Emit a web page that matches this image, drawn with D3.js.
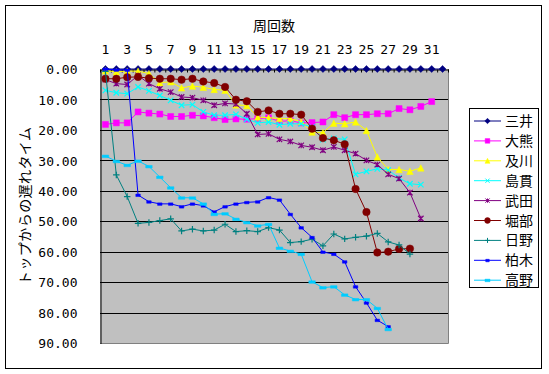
<!DOCTYPE html>
<html>
<head>
<meta charset="utf-8">
<script src="https://cdnjs.cloudflare.com/ajax/libs/d3/7.8.5/d3.min.js"></script>
<style>
  body { margin: 0; background: #fff; }
  svg { display: block; }
</style>
</head>
<body>
<svg id="chart" width="549" height="374"></svg>
<script>
var laps = [1, 2, 3, 4, 5, 6, 7, 8, 9, 10, 11, 12, 13, 14, 15, 16,
            17, 18, 19, 20, 21, 22, 23, 24, 25, 26, 27, 28, 29, 30, 31, 32];
var lapLabels = [1, 3, 5, 7, 9, 11, 13, 15, 17, 19, 21, 23, 25, 27, 29, 31];
var yTicks = [0, 10, 20, 30, 40, 50, 60, 70, 80, 90];
var names = ["三井", "大熊", "及川", "島貫", "武田", "堀部", "日野", "柏木", "高野"];

var mitsui = [0, 0, 0, 0, 0, 0, 0, 0, 0, 0, 0, 0, 0, 0, 0, 0,
              0, 0, 0, 0, 0, 0, 0, 0, 0, 0, 0, 0, 0, 0, 0, 0];
var okuma = [18.2, 17.7, 17.7, 14.1, 14.5, 14.8, 15.6, 15.6, 15.2, 15.4, 16.0, 16.6, 16.4, 16.5, 16.3, 16.0,
             17.2, 17.0, 17.7, 17.6, 17.4, 15.0, 16.0, 15.0, 15.0, 14.7, 14.7, 13.0, 13.4, 12.3, 10.7];
var oikawa = [0.6, 0.9, 0.7, 0.7, 1.5, 4.5, 4.2, 6.2, 5.6, 6.0, 6.7, 7.0, 11.8, 12.0, 15.8, 16.0,
              16.3, 16.3, 17.3, 20.7, 20.9, 17.8, 18.0, 17.4, 20.2, 28.9, 33.0, 33.0, 33.6, 32.5];
var shimanuki = [7.0, 7.8, 8.1, 5.9, 7.2, 8.7, 10.3, 11.9, 11.7, 14.1, 15.2, 15.2, 14.9, 16.5, 17.7, 17.4,
                 18.3, 18.0, 18.0, 19.1, 23.2, 22.8, 23.1, 34.6, 33.6, 32.8, 33.2, 35.8, 37.7, 38.0];
var takeda = [3.5, 4.8, 5.1, 2.1, 4.8, 6.5, 7.6, 9.2, 9.4, 10.3, 11.9, 11.3, 11.5, 14.7, 21.5, 21.3,
              23.1, 23.8, 25.1, 25.7, 26.7, 25.6, 26.7, 27.8, 30.0, 31.4, 34.6, 36.0, 40.6, 49.1];
var horibe = [3.2, 3.2, 2.7, 2.6, 3.0, 3.2, 3.2, 3.5, 3.2, 4.1, 4.6, 5.9, 10.1, 10.6, 14.1, 13.6,
              14.7, 14.7, 15.0, 19.6, 22.7, 23.4, 24.7, 39.4, 47.0, 60.3, 60.0, 59.1, 59.0];
var hino = [0.8, 34.8, 41.9, 50.7, 50.4, 49.8, 49.2, 53.2, 52.6, 53.2, 52.9, 51.0, 53.4, 53.1, 53.4, 52.1,
            52.9, 57.0, 56.7, 55.9, 58.1, 54.2, 55.8, 55.3, 54.9, 54.0, 56.8, 57.8, 60.8];
var kashiwagi = [0.0, 0.3, 0.3, 41.4, 43.6, 44.3, 44.3, 45.2, 44.3, 44.9, 46.9, 45.2, 44.3, 43.8, 43.6, 42.2,
                 43.0, 47.7, 52.1, 55.3, 60.1, 60.8, 63.3, 71.5, 76.8, 82.5, 84.6];
var takano = [28.6, 30.3, 31.6, 30.2, 32.0, 35.5, 39.0, 42.3, 42.3, 44.3, 47.7, 47.5, 49.3, 50.4, 51.5, 51.0,
              58.8, 59.8, 60.8, 69.9, 71.8, 71.5, 74.2, 75.7, 75.7, 78.6, 85.5];

var seriesValues = [mitsui, okuma, oikawa, shimanuki, takeda, horibe, hino, kashiwagi, takano];
var colors = ["#000080", "#ff00ff", "#ffff00", "#00ffff", "#800080", "#800000", "#008080", "#0000ff", "#00ccff"];

// marker shapes, size = (2r)^2
function half(size) { return Math.sqrt(size) / 2; }
var diamond = { draw: function (c, s) { var a = half(s); c.moveTo(0, -a); c.lineTo(a, 0); c.lineTo(0, a); c.lineTo(-a, 0); c.closePath(); } };
var square = { draw: function (c, s) { var a = half(s); c.rect(-a, -a, 2 * a, 2 * a); } };
var triangle = { draw: function (c, s) { var a = half(s); c.moveTo(0, -a); c.lineTo(a, a); c.lineTo(-a, a); c.closePath(); } };
var cross = { draw: function (c, s) { var a = half(s); c.moveTo(-a, -a); c.lineTo(a, a); c.moveTo(a, -a); c.lineTo(-a, a); } };
var star = { draw: function (c, s) { var a = half(s); c.moveTo(-a, -a); c.lineTo(a, a); c.moveTo(a, -a); c.lineTo(-a, a); c.moveTo(0, -a); c.lineTo(0, a); } };
var circle = { draw: function (c, s) { var a = half(s); c.moveTo(a, 0); c.arc(0, 0, a, 0, 2 * Math.PI); } };
var plus = { draw: function (c, s) { var a = half(s); c.moveTo(-a, 0); c.lineTo(a, 0); c.moveTo(0, -a); c.lineTo(0, a); } };
var dash = { draw: function (c, s) { var a = half(s); c.rect(-a, -1, 2 * a, 2.5); } };

var markers = [
    { type: diamond, size: 49, fill: true },
    { type: square, size: 36, fill: true },
    { type: triangle, size: 42, fill: true },
    { type: cross, size: 30, fill: false },
    { type: star, size: 30, fill: false },
    { type: circle, size: 56, fill: true },
    { type: plus, size: 42, fill: false },
    { type: dash, size: 20, fill: true },
    { type: dash, size: 42, fill: true }
];

var svg = d3.select("svg#chart"),
    pLeft = 100, pRight = 448, pTop = 69, pBottom = 343;

svg.append("rect").attr("width", 549).attr("height", 374).attr("fill", "#fff");
svg.append("rect")
    .attr("x", 5.5).attr("y", 5.5).attr("width", 536).attr("height", 363)
    .attr("fill", "none").attr("stroke", "#000");

var x = d3.scaleBand().domain(laps).range([pLeft, pRight]);
var xb = d3.scaleLinear().domain([0, laps.length]).range([pLeft, pRight]);
var y = d3.scaleLinear().domain([0, 90]).range([pTop, pBottom]);
var cx = function (d) { return x(d) + x.bandwidth() / 2; };

// plot area
svg.append("rect")
    .attr("x", pLeft).attr("y", pTop).attr("width", pRight - pLeft).attr("height", pBottom - pTop)
    .attr("fill", "#c0c0c0");
svg.append("path")
    .attr("d", "M" + (pRight + 0.5) + "," + pTop + "V" + (pBottom + 0.5) + "H" + pLeft)
    .attr("fill", "none").attr("stroke", "#808080");

// gridlines
svg.append("g").selectAll("line")
    .data(yTicks.filter(function (d) { return d > 0 && d < 90; }))
    .enter().append("line")
    .attr("x1", pLeft).attr("x2", pRight)
    .attr("y1", function (d) { return Math.round(y(d)) + 0.5; })
    .attr("y2", function (d) { return Math.round(y(d)) + 0.5; })
    .attr("stroke", "#000");

var numFont = "'DejaVu Sans Mono', monospace";
var cjkFont = "'Noto Sans CJK JP', sans-serif";

// y axis
var yAxis = svg.append("g")
    .attr("transform", "translate(" + (pLeft + 0.5) + ",0.5)")
    .call(d3.axisLeft(y).tickValues(yTicks).tickFormat(d3.format(".2f")).tickSize(0).tickPadding(23));
yAxis.select(".domain").attr("stroke", "#000");
yAxis.selectAll("text").attr("font-family", numFont).attr("font-size", "13px").attr("fill", "#000");

// top category axis: ticks between categories, labels above
var xTicks = svg.append("g")
    .attr("transform", "translate(0," + (pTop + 0.5) + ")")
    .call(d3.axisBottom(xb).tickValues(d3.range(0, laps.length + 1)).tickFormat("").tickSize(3).tickSizeOuter(0));
xTicks.select(".domain").attr("stroke", "#000");
xTicks.selectAll("line").attr("stroke", "#000");

var xLabels = svg.append("g")
    .attr("transform", "translate(0," + pTop + ")")
    .call(d3.axisTop(x).tickValues(lapLabels).tickSize(0).tickPadding(15));
xLabels.select(".domain").remove();
xLabels.selectAll("text").attr("font-family", numFont).attr("font-size", "13px").attr("fill", "#000");

// titles
svg.append("text")
    .attr("x", (pLeft + pRight) / 2).attr("y", 31)
    .attr("text-anchor", "middle")
    .attr("font-family", cjkFont).attr("font-size", "14px")
    .text("周回数");
svg.append("text")
    .attr("transform", "translate(25,206) rotate(-90)")
    .attr("text-anchor", "middle").attr("dy", "0.35em")
    .attr("font-family", cjkFont).attr("font-size", "14px")
    .attr("textLength", 158).attr("lengthAdjust", "spacing")
    .text("トップからの遅れタイム");

// series
var line = d3.line()
    .x(function (d, i) { return cx(laps[i]); })
    .y(function (d) { return y(d); });

var plot = svg.append("g");
seriesValues.forEach(function (vals, k) {
    var g = plot.append("g");
    g.append("path")
        .attr("d", line(vals))
        .attr("fill", "none")
        .attr("stroke", colors[k])
        .attr("stroke-width", 1);
    var m = markers[k];
    g.selectAll("path.mk")
        .data(vals)
        .enter().append("path")
        .attr("class", "mk")
        .attr("transform", function (d, i) { return "translate(" + cx(laps[i]) + "," + y(d) + ")"; })
        .attr("d", d3.symbol().type(m.type).size(m.size))
        .attr("fill", m.fill ? colors[k] : "none")
        .attr("stroke", colors[k])
        .attr("stroke-width", m.fill ? 0.5 : 1.2);
});

// legend
var legend = svg.append("g");
legend.append("rect")
    .attr("x", 469.5).attr("y", 108.5).attr("width", 69).attr("height", 179)
    .attr("fill", "#fff").attr("stroke", "#000");
var rows = legend.selectAll("g.row")
    .data(names)
    .enter().append("g")
    .attr("class", "row")
    .attr("transform", function (d, i) { return "translate(0," + (121 + i * 19.9) + ")"; });
rows.append("line")
    .attr("x1", 474).attr("x2", 501)
    .attr("stroke", function (d, i) { return colors[i]; });
rows.append("path")
    .attr("transform", "translate(487.5,0)")
    .attr("d", function (d, i) { return d3.symbol().type(markers[i].type).size(markers[i].size * 0.6)(); })
    .attr("fill", function (d, i) { return markers[i].fill ? colors[i] : "none"; })
    .attr("stroke", function (d, i) { return colors[i]; })
    .attr("stroke-width", function (d, i) { return markers[i].fill ? 0.5 : 1; });
rows.append("text")
    .attr("x", 505).attr("dy", "0.36em")
    .attr("font-family", cjkFont).attr("font-size", "14px")
    .text(function (d) { return d; });
</script>
</body>
</html>
